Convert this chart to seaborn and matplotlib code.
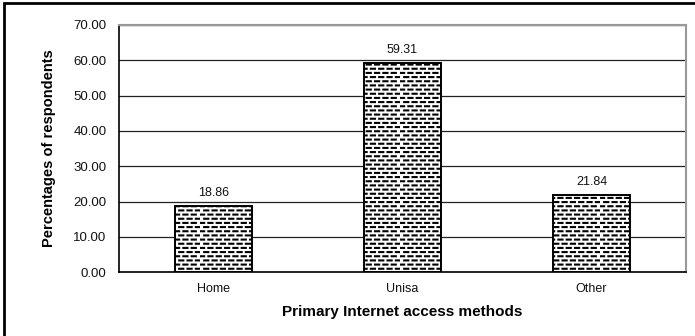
import matplotlib.pyplot as plt
import matplotlib.patches as mpatches
import matplotlib.hatch as mhatch
from matplotlib.path import Path
import numpy as np
import pandas as pd
import seaborn as sns

methods = ['Home', 'Unisa', 'Other']
percentages = [18.86, 59.31, 21.84]
yticks = [0, 10, 20, 30, 40, 50, 60, 70]

df = pd.DataFrame({'method': methods, 'pct': percentages})


class DashHatch(mhatch.HatchPatternBase):
    """staggered short dashes, like the old Excel fill pattern"""
    def __init__(self, hatch, density):
        self.rows = 24 if '-' in hatch else 0
        self.cols = 12
        self.num_vertices = self.rows * self.cols * 2

    def set_vertices_and_codes(self, vertices, codes):
        k = 0
        for r in range(self.rows):
            y = (r + 0.5) / self.rows
            off = 0.5 / self.cols if r % 2 else 0.0
            for c in range(self.cols):
                x0 = c / self.cols + off
                vertices[k] = (x0, y)
                vertices[k + 1] = (x0 + 0.5 / self.cols, y)
                codes[k] = Path.MOVETO
                codes[k + 1] = Path.LINETO
                k += 2


mhatch._hatch_types = [DashHatch]

sns.set_style('white')
plt.rcParams['font.family'] = ['Liberation Sans', 'DejaVu Sans']
plt.rcParams['hatch.linewidth'] = 1.5

fig = plt.figure(figsize=(6.95, 3.36), dpi=100)
ax = fig.add_axes([0.171, 0.190, 0.816, 0.736])

sns.barplot(data=df, x='method', y='pct', ax=ax, color='white',
            edgecolor='black', linewidth=1.4, width=0.41, zorder=3)
for p in ax.patches:
    p.set_hatch('-')

ax.bar_label(ax.containers[0], fmt='%.2f', padding=5, fontsize=9, color='#111111')

ax.set_ylim(0, 70)
ax.set_xlim(-0.5, 2.5)
ax.set_yticks(yticks)
ax.set_yticklabels([f'{v:.2f}' for v in yticks], fontsize=9.5, color='#111111')
ax.yaxis.grid(True, color='#222222', linewidth=0.9, zorder=0)
ax.set_axisbelow(True)

ax.set_xticks(range(len(methods)))
ax.set_xticklabels(methods, fontsize=9, color='#111111')
ax.tick_params(axis='x', which='major', length=0, pad=8)
ax.set_xticks([-0.5, 0.5, 1.5, 2.5], minor=True)
ax.tick_params(axis='x', which='minor', length=4, width=1, direction='out', color='black')
ax.tick_params(axis='y', length=5, width=1, direction='out', color='black', pad=4)

for side in ['left', 'bottom']:
    ax.spines[side].set_color('black')
    ax.spines[side].set_linewidth(1.2)
for side in ['top', 'right']:
    ax.spines[side].set_visible(True)
    ax.spines[side].set_color('#999999')
    ax.spines[side].set_linewidth(1.5)

ax.set_xlabel('Primary Internet access methods', fontsize=11, fontweight='bold',
              labelpad=7, color='black')
ax.set_ylabel('Percentages of respondents', fontsize=10.5, fontweight='bold',
              labelpad=12, color='black')

# outer chart frame (cut off at right and bottom)
frame = mpatches.Rectangle((4 / 695, -0.05), 1.1, 1.0 - 3 / 336 + 0.05,
                           transform=fig.transFigure, fill=False,
                           edgecolor='black', linewidth=2)
fig.patches.append(frame)

fig.savefig('out.png', dpi=100)
